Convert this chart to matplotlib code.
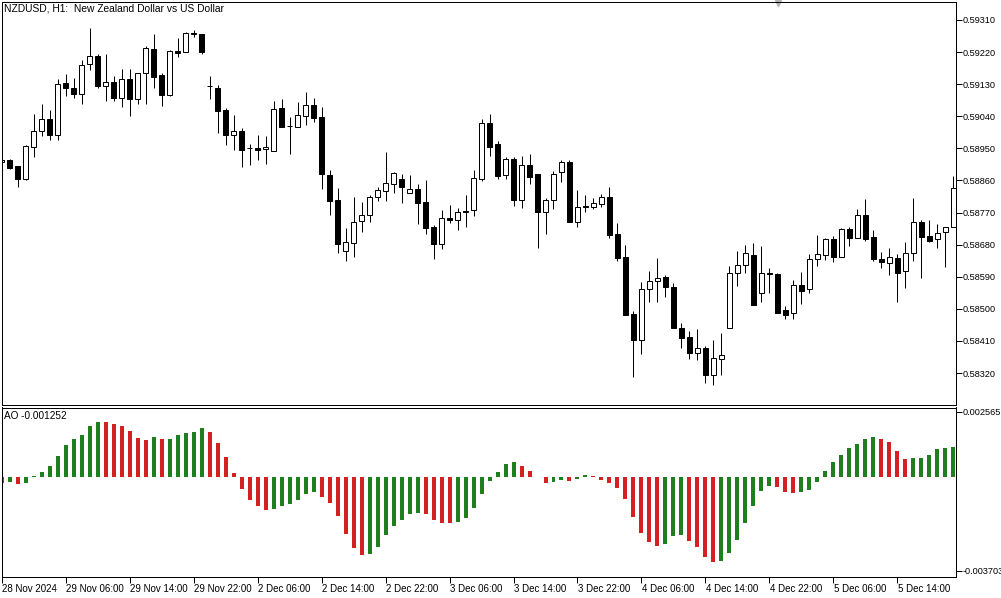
import matplotlib
matplotlib.use('Agg')
import matplotlib.pyplot as plt
import matplotlib.transforms as mtransforms
from matplotlib.patches import Rectangle
import numpy as np

title = 'NZDUSD, H1:  New Zealand Dollar vs US Dollar'
ao_title = 'AO -0.001252'

# hourly candles, 28 Nov 22:00 .. 5 Dec 21:00
opens = [
    0.58912, 0.58917, 0.58900, 0.58863, 0.58954, 0.58998, 0.59032, 0.58988, 0.59133, 0.59118,
    0.59102, 0.59186, 0.59208, 0.59126, 0.59136, 0.59092, 0.59144, 0.59088, 0.59160, 0.59228,
    0.59155, 0.59100, 0.59223, 0.59219, 0.59271, 0.59271, 0.59126, 0.59118, 0.59058, 0.58988,
    0.58999, 0.58951, 0.58952, 0.58947, 0.58943, 0.59063, 0.59012, 0.59011, 0.59042, 0.59072,
    0.59039, 0.58875, 0.58805, 0.58663, 0.58685, 0.58745, 0.58764, 0.58814, 0.58831, 0.58851,
    0.58864, 0.58826, 0.58836, 0.58800, 0.58730, 0.58681, 0.58755, 0.58749, 0.58773, 0.58778,
    0.58863, 0.59020, 0.58962, 0.58874, 0.58920, 0.58806, 0.58902, 0.58878, 0.58772, 0.58806,
    0.58883, 0.58912, 0.58743, 0.58787, 0.58786, 0.58795, 0.58814, 0.58710, 0.58645, 0.58486,
    0.58413, 0.58555, 0.58577, 0.58588, 0.58561, 0.58445, 0.58421, 0.58375, 0.58390, 0.58315,
    0.58358, 0.58445, 0.58601, 0.58622, 0.58650, 0.58545, 0.58600, 0.58597, 0.58496, 0.58488,
    0.58566, 0.58555, 0.58639, 0.58650, 0.58696, 0.58646, 0.58723, 0.58699, 0.58762, 0.58701,
    0.58640, 0.58628, 0.58643, 0.58605, 0.58656, 0.58743, 0.58704, 0.58697, 0.58715, 0.58729,
]
highs = [
    0.58920, 0.58920, 0.58901, 0.58959, 0.59046, 0.59074, 0.59058, 0.59144, 0.59158, 0.59146,
    0.59198, 0.59287, 0.59215, 0.59215, 0.59152, 0.59173, 0.59173, 0.59161, 0.59237, 0.59271,
    0.59162, 0.59226, 0.59259, 0.59275, 0.59283, 0.59271, 0.59153, 0.59128, 0.59062, 0.59044,
    0.59006, 0.58962, 0.58987, 0.58985, 0.59084, 0.59088, 0.59039, 0.59079, 0.59108, 0.59091,
    0.59065, 0.58889, 0.58838, 0.58726, 0.58813, 0.58800, 0.58818, 0.58842, 0.58940, 0.58883,
    0.58878, 0.58875, 0.58850, 0.58861, 0.58735, 0.58777, 0.58791, 0.58783, 0.58819, 0.58889,
    0.59031, 0.59046, 0.58971, 0.58925, 0.58927, 0.58929, 0.58934, 0.58878, 0.58811, 0.58887,
    0.58916, 0.58917, 0.58833, 0.58819, 0.58810, 0.58822, 0.58841, 0.58740, 0.58678, 0.58494,
    0.58575, 0.58607, 0.58642, 0.58595, 0.58572, 0.58459, 0.58438, 0.58443, 0.58396, 0.58413,
    0.58432, 0.58620, 0.58662, 0.58678, 0.58685, 0.58676, 0.58614, 0.58600, 0.58508, 0.58581,
    0.58604, 0.58653, 0.58707, 0.58698, 0.58704, 0.58726, 0.58729, 0.58780, 0.58808, 0.58721,
    0.58659, 0.58670, 0.58653, 0.58688, 0.58810, 0.58749, 0.58749, 0.58738, 0.58730, 0.58872,
]
lows = [
    0.58909, 0.58893, 0.58842, 0.58861, 0.58927, 0.58985, 0.58973, 0.58973, 0.59097, 0.59092,
    0.59075, 0.59170, 0.59118, 0.59084, 0.59084, 0.59067, 0.59042, 0.59075, 0.59075, 0.59120,
    0.59069, 0.59098, 0.59205, 0.59219, 0.59263, 0.59215, 0.59088, 0.58992, 0.58959, 0.58945,
    0.58899, 0.58903, 0.58917, 0.58906, 0.58943, 0.59011, 0.58934, 0.59009, 0.59015, 0.59025,
    0.58836, 0.58763, 0.58657, 0.58635, 0.58646, 0.58716, 0.58744, 0.58803, 0.58803, 0.58826,
    0.58798, 0.58826, 0.58738, 0.58710, 0.58641, 0.58669, 0.58741, 0.58720, 0.58730, 0.58761,
    0.58859, 0.58929, 0.58865, 0.58865, 0.58789, 0.58784, 0.58851, 0.58671, 0.58711, 0.58781,
    0.58855, 0.58744, 0.58730, 0.58772, 0.58781, 0.58785, 0.58699, 0.58635, 0.58483, 0.58310,
    0.58373, 0.58520, 0.58520, 0.58534, 0.58445, 0.58391, 0.58360, 0.58357, 0.58293, 0.58287,
    0.58315, 0.58445, 0.58564, 0.58601, 0.58512, 0.58520, 0.58545, 0.58488, 0.58471, 0.58472,
    0.58514, 0.58545, 0.58620, 0.58637, 0.58630, 0.58644, 0.58676, 0.58699, 0.58691, 0.58633,
    0.58614, 0.58595, 0.58520, 0.58558, 0.58635, 0.58586, 0.58687, 0.58671, 0.58618, 0.58729,
]
closes = [
    0.58917, 0.58896, 0.58863, 0.58957, 0.58998, 0.59032, 0.58988, 0.59130, 0.59120, 0.59102,
    0.59183, 0.59208, 0.59126, 0.59135, 0.59092, 0.59144, 0.59088, 0.59161, 0.59231, 0.59151,
    0.59100, 0.59223, 0.59218, 0.59273, 0.59273, 0.59221, 0.59124, 0.59056, 0.58988, 0.58998,
    0.58945, 0.58950, 0.58946, 0.58955, 0.59060, 0.59011, 0.59013, 0.59044, 0.59072, 0.59036,
    0.58877, 0.58803, 0.58681, 0.58687, 0.58743, 0.58763, 0.58814, 0.58833, 0.58852, 0.58880,
    0.58842, 0.58836, 0.58798, 0.58728, 0.58681, 0.58755, 0.58748, 0.58771, 0.58771, 0.58866,
    0.59020, 0.58955, 0.58872, 0.58919, 0.58806, 0.58902, 0.58870, 0.58772, 0.58805, 0.58878,
    0.58912, 0.58744, 0.58786, 0.58785, 0.58796, 0.58813, 0.58707, 0.58643, 0.58483, 0.58413,
    0.58555, 0.58577, 0.58586, 0.58562, 0.58447, 0.58419, 0.58377, 0.58389, 0.58315, 0.58361,
    0.58371, 0.58600, 0.58623, 0.58656, 0.58512, 0.58600, 0.58597, 0.58488, 0.58484, 0.58566,
    0.58551, 0.58640, 0.58653, 0.58696, 0.58646, 0.58724, 0.58699, 0.58762, 0.58695, 0.58640,
    0.58630, 0.58644, 0.58601, 0.58656, 0.58743, 0.58702, 0.58691, 0.58712, 0.58729, 0.58838,
]

# Awesome Oscillator values
ao = [
    -0.000263, -0.000197, -0.000289, -0.000237, 0.000013, 0.000197, 0.000420, 0.000828, 0.001248, 0.001485,
    0.001643, 0.001997, 0.002155, 0.002142, 0.002076, 0.001997, 0.001800, 0.001524, 0.001445, 0.001564,
    0.001485, 0.001498, 0.001643, 0.001721, 0.001761, 0.001918, 0.001761, 0.001327, 0.000775, 0.000145,
    -0.000473, -0.000920, -0.001143, -0.001301, -0.001288, -0.001143, -0.001064, -0.000907, -0.000670, -0.000591,
    -0.000788, -0.001025, -0.001537, -0.002247, -0.002799, -0.003075, -0.003035, -0.002759, -0.002286, -0.001932,
    -0.001695, -0.001459, -0.001419, -0.001459, -0.001695, -0.001813, -0.001826, -0.001774, -0.001616, -0.001222,
    -0.000670, -0.000158, 0.000184, 0.000499, 0.000578, 0.000420, 0.000223, -0.000026, -0.000237, -0.000197,
    -0.000118, -0.000158, -0.000079, 0.000053, 0.000026, -0.000118, -0.000237, -0.000434, -0.000867, -0.001577,
    -0.002208, -0.002562, -0.002720, -0.002641, -0.002326, -0.002286, -0.002523, -0.002759, -0.003154, -0.003351,
    -0.003338, -0.002996, -0.002483, -0.001813, -0.001143, -0.000552, -0.000355, -0.000394, -0.000591, -0.000631,
    -0.000591, -0.000512, -0.000197, 0.000237, 0.000591, 0.000854, 0.001143, 0.001288, 0.001498, 0.001564,
    0.001498, 0.001367, 0.001012, 0.000710, 0.000723, 0.000749, 0.000854, 0.001091, 0.001130, 0.001169,
]

price_ticks = [0.58320, 0.58410, 0.58500, 0.58590, 0.58680, 0.58770,
               0.58860, 0.58950, 0.59040, 0.59130, 0.59220, 0.59310]
ao_ticks = [0.002565, -0.003703]
time_ticks = [0, 8, 16, 24, 32, 40, 48, 56, 64, 72, 80, 88, 96, 104, 112]
time_labels = ['28 Nov 2024', '29 Nov 06:00', '29 Nov 14:00', '29 Nov 22:00',
               '2 Dec 06:00', '2 Dec 14:00', '2 Dec 22:00', '3 Dec 06:00',
               '3 Dec 14:00', '3 Dec 22:00', '4 Dec 06:00', '4 Dec 14:00',
               '4 Dec 22:00', '5 Dec 06:00', '5 Dec 14:00']

plt.rcParams['font.family'] = ['Liberation Sans', 'DejaVu Sans']
fs = 7
yfs = 6.6

W, H = 1001, 598
fig = plt.figure(figsize=(W / 100, H / 100), dpi=100)
px = 0.72  # one pixel in points

left = 1.5 / W
width = (956 - 1.5) / W
ax = fig.add_axes([left, 1 - 404.5 / H, width, (404.5 - 1.5) / H])
ax2 = fig.add_axes([left, 1 - 577.3 / H, width, (577.3 - 407.5) / H])

x = np.arange(len(opens))
bw = 0.58
ax.vlines(x, lows, highs, color='black', lw=px, zorder=1)
for i in range(len(opens)):
    o, c = opens[i], closes[i]
    up = c >= o
    y0 = min(o, c)
    h = max(abs(c - o), 0.000004)
    ax.add_patch(Rectangle((x[i] - bw / 2, y0), bw, h,
                           facecolor='white' if up else 'black',
                           edgecolor='black', lw=px, zorder=2))

ax.set_xlim(-0.0375, 119.34)
ax.set_ylim(0.582318, 0.593618)
ax.set_xticks([])
ax.yaxis.tick_right()
ax.set_yticks(price_ticks)
ax.set_yticklabels(['%.5f' % p for p in price_ticks])
ax.tick_params(axis='y', direction='out', length=4, width=px, pad=1, labelsize=yfs)
ax.text(0.003, 0.996, title, transform=ax.transAxes, ha='left', va='top', fontsize=7.4)
ax.plot([0.8135], [0.997], marker='v', color='#b4b4b4', ms=5, transform=ax.transAxes,
        clip_on=False)

# AO histogram, green when rising, red when falling
ao_arr = np.array(ao)
rising = np.concatenate([[True], np.diff(ao_arr) > 0])
colors = np.where(rising, '#1f7f1f', '#d42020')
ax2.bar(x, ao_arr, width=0.5, color=colors, linewidth=0)
ax2.set_xlim(-0.0375, 119.34)
ax2.set_ylim(-0.003966, 0.002728)
ax2.yaxis.tick_right()
ax2.set_yticks(ao_ticks)
ax2.set_yticklabels(['%.6f' % v for v in ao_ticks])
ax2.tick_params(axis='y', direction='out', length=4, width=px, pad=1, labelsize=yfs)
ax2.set_xticks(time_ticks)
ax2.set_xticklabels(time_labels)
ax2.tick_params(axis='x', direction='out', length=4, width=px, pad=1, labelsize=fs)
offset = mtransforms.ScaledTranslation(0.5 / 100, 0, fig.dpi_scale_trans)
for lab in ax2.get_xticklabels():
    lab.set_ha('left')
    lab.set_transform(lab.get_transform() + offset)
ax2.text(0.003, 0.98, ao_title, transform=ax2.transAxes, ha='left', va='top', fontsize=7.2)

for a in (ax, ax2):
    for s in a.spines.values():
        s.set_linewidth(px)

fig.savefig('out.png', dpi=100)
